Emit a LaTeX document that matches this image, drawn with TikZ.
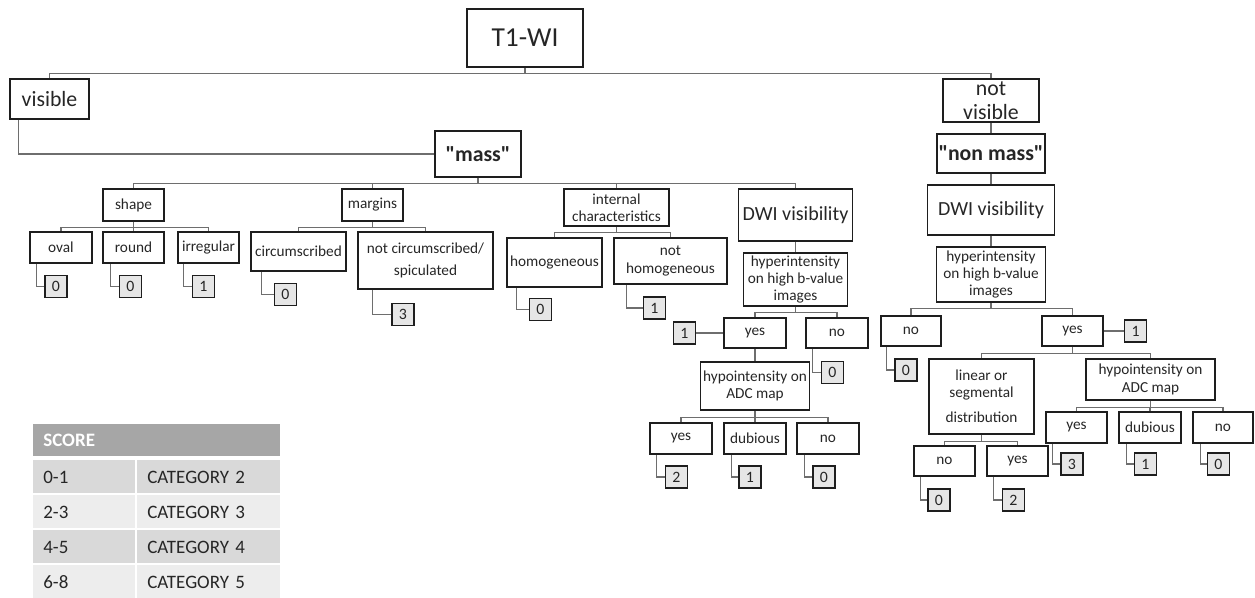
\documentclass[tikz,border=0pt]{standalone}
\usepackage{fontspec}
\setmainfont{Carlito}
\usetikzlibrary{positioning,calc}
\definecolor{boxline}{HTML}{1E1E1E}
\definecolor{connline}{HTML}{6E6E6E}
\definecolor{scorefill}{HTML}{E6E6E6}
\definecolor{txt}{HTML}{262626}
\definecolor{hdgray}{HTML}{A6A6A6}
\definecolor{rowdark}{HTML}{D9D9D9}
\definecolor{rowlight}{HTML}{EDEDED}

\begin{document}
\begin{tikzpicture}[
  box/.style={draw=boxline, line width=1.1pt, align=center, inner sep=1pt, text=txt, font=\fontsize{8.7}{9.8}\selectfont},
  sz/.style 2 args={minimum width=#1cm, minimum height=#2cm},
  score/.style={draw=boxline, line width=1.1pt, fill=scorefill, minimum size=0.44cm, inner sep=0pt, text=txt, font=\fontsize{9}{9}\selectfont},
  ln/.style={draw=connline, line width=0.6pt},
  cell/.style={fill=#1, anchor=west, minimum height=0.66cm, inner xsep=0.2cm, inner ysep=0pt, align=left, text=txt, font=\fontsize{10.8}{13}\selectfont},
]
  \useasboundingbox (0,0) rectangle (25.1,-11.96);

  % top levels
  \node[box, sz={2.32}{1.16}, font=\fontsize{15.6}{18}\selectfont] (t1) at (10.50,-0.76) {T1-WI};
  \node[box, sz={1.58}{0.80}, font=\fontsize{12.4}{13.6}\selectfont] (vis) at (0.99,-1.98) {visible};
  \node[box, sz={1.92}{0.86}, font=\fontsize{12.4}{13.6}\selectfont] (nvis) at (19.82,-2.01) {not\\visible};
  \node[box, sz={1.72}{0.92}, font=\bfseries\fontsize{12.4}{13.6}\selectfont] (mass) at (9.56,-3.08) {\textquotedbl mass\textquotedbl};
  \node[box, sz={2.12}{0.78}, font=\bfseries\fontsize{12.4}{13.6}\selectfont] (nmass) at (19.82,-3.07) {\textquotedbl non mass\textquotedbl};

  % mass branch
  \node[box, sz={1.22}{0.64}] (shape) at (2.67,-4.10) {shape};
  \node[box, sz={1.22}{0.64}] (margins) at (7.45,-4.10) {margins};
  \node[box, sz={2.10}{0.74}] (intc) at (12.33,-4.15) {internal\\characteristics};
  \node[box, sz={2.28}{1.04}, font=\fontsize{11.4}{13}\selectfont] (dwi1) at (15.91,-4.30) {DWI visibility};

  \node[box, sz={1.24}{0.62}] (oval) at (1.22,-4.95) {oval};
  \node[box, sz={1.22}{0.62}] (round) at (2.67,-4.95) {round};
  \node[box, sz={1.22}{0.62}] (irreg) at (4.17,-4.95) {irregular};
  \node[box, sz={1.90}{0.78}] (circ) at (5.97,-5.03) {circumscribed};
  \node[box, sz={2.70}{1.14}] (ncirc) at (8.51,-5.21) {not circumscribed/\\[3.2pt]spiculated};
  \node[box, sz={1.90}{0.98}] (homog) at (11.09,-5.25) {homogeneous};
  \node[box, sz={2.26}{0.92}] (nhomog) at (13.41,-5.22) {not\\homogeneous};

  \node[box, sz={2.08}{1.06}] (hyp1) at (15.91,-5.59) {hyperintensity\\on high b-value\\images};
  \node[box, sz={1.24}{0.60}] (yes1) at (15.10,-6.66) {yes};
  \node[box, sz={1.24}{0.60}] (no1) at (16.74,-6.66) {no};
  \node[box, sz={2.18}{0.96}] (hypo1) at (15.10,-7.72) {hypointensity on\\ADC map};
  \node[box, sz={1.24}{0.62}] (y1a) at (13.62,-8.77) {yes};
  \node[box, sz={1.24}{0.62}] (d1) at (15.10,-8.77) {dubious};
  \node[box, sz={1.24}{0.62}] (n1) at (16.56,-8.77) {no};

  % non mass branch
  \node[box, sz={2.54}{1.00}, font=\fontsize{11.4}{13}\selectfont] (dwi2) at (19.82,-4.20) {DWI visibility};
  \node[box, sz={2.18}{1.10}] (hyp2) at (19.82,-5.49) {hyperintensity\\on high b-value\\images};
  \node[box, sz={1.20}{0.60}] (no2) at (18.22,-6.62) {no};
  \node[box, sz={1.22}{0.60}] (yes2) at (21.45,-6.62) {yes};
  \node[box, sz={2.10}{1.50}] (lin) at (19.63,-7.93) {linear or\\segmental\\[4.5pt]distribution};
  \node[box, sz={2.58}{0.82}] (hypo2) at (23.01,-7.59) {hypointensity on\\ADC map};
  \node[box, sz={1.22}{0.60}] (ln) at (18.89,-9.22) {no};
  \node[box, sz={1.22}{0.60}] (ly) at (20.35,-9.22) {yes};
  \node[box, sz={1.22}{0.62}] (hy) at (21.53,-8.55) {yes};
  \node[box, sz={1.24}{0.62}] (hd) at (23.00,-8.55) {dubious};
  \node[box, sz={1.20}{0.62}] (hn) at (24.46,-8.55) {no};

  % scores
  \node[score] (s-oval) at (1.12,-5.73) {0};
  \node[score] (s-round) at (2.61,-5.73) {0};
  \node[score] (s-irreg) at (4.07,-5.73) {1};
  \node[score] (s-circ) at (5.71,-5.89) {0};
  \node[score] (s-ncirc) at (8.06,-6.29) {3};
  \node[score] (s-homog) at (10.81,-6.19) {0};
  \node[score] (s-nhomog) at (13.09,-6.16) {1};
  \node[score] (s-yes1) at (13.69,-6.66) {1};
  \node[score] (s-no1) at (16.65,-7.45) {0};
  \node[score] (s-y1a) at (13.53,-9.54) {2};
  \node[score] (s-d1) at (15.00,-9.54) {1};
  \node[score] (s-n1) at (16.48,-9.54) {0};
  \node[score] (s-no2) at (18.12,-7.40) {0};
  \node[score] (s-yes2) at (22.71,-6.62) {1};
  \node[score] (s-ln) at (18.78,-10.00) {0};
  \node[score] (s-ly) at (20.27,-10.00) {2};
  \node[score] (s-hy) at (21.44,-9.28) {3};
  \node[score] (s-hd) at (22.91,-9.28) {1};
  \node[score] (s-hn) at (24.37,-9.28) {0};

  % tree lines
  \draw[ln] (t1.south) -- ++(0,-0.12) -| (vis.north);
  \draw[ln] (t1.south) -- ++(0,-0.12) -| (nvis.north);
  \draw[ln] ([xshift=0.18cm]vis.south west) |- (mass);
  \draw[ln] (nvis) -- (nmass);
  \draw[ln] (nmass) -- (dwi2);
  \draw[ln] (dwi2) -- (hyp2);

  \draw[ln] (mass.south) -- ++(0,-0.12) -| (shape.north);
  \draw[ln] (mass.south) -- ++(0,-0.12) -| (margins.north);
  \draw[ln] (mass.south) -- ++(0,-0.12) -| (intc.north);
  \draw[ln] (mass.south) -- ++(0,-0.12) -| (dwi1.north);
  \draw[ln] (shape.south) -- ++(0,-0.12) -| (oval.north);
  \draw[ln] (shape.south) -- ++(0,-0.12) -| (round.north);
  \draw[ln] (shape.south) -- ++(0,-0.12) -| (irreg.north);
  \draw[ln] (margins.south) -- ++(0,-0.12) -| (circ.north);
  \draw[ln] (margins.south) -- ++(0,-0.12) -| (ncirc.north);
  \draw[ln] (intc.south) -- ++(0,-0.12) -| (homog.north);
  \draw[ln] (intc.south) -- ++(0,-0.12) -| (nhomog.north);
  \draw[ln] (dwi1) -- (hyp1);
  \draw[ln] (hyp1.south) -- ++(0,-0.12) -| (yes1.north);
  \draw[ln] (hyp1.south) -- ++(0,-0.12) -| (no1.north);
  \draw[ln] (yes1) -- (hypo1);
  \draw[ln] (hypo1.south) -- ++(0,-0.14) -| (y1a.north);
  \draw[ln] (hypo1.south) -- ++(0,-0.14) -| (d1.north);
  \draw[ln] (hypo1.south) -- ++(0,-0.14) -| (n1.north);

  \draw[ln] (hyp2.south) -- ++(0,-0.12) -| (no2.north);
  \draw[ln] (hyp2.south) -- ++(0,-0.12) -| (yes2.north);
  \draw[ln] (yes2.south) -- ++(0,-0.14) -| (lin.north);
  \draw[ln] (yes2.south) -- ++(0,-0.14) -| (hypo2.north);
  \draw[ln] (lin.south) -- ++(0,-0.14) -| (ln.north);
  \draw[ln] (lin.south) -- ++(0,-0.14) -| (ly.north);
  \draw[ln] (hypo2.south) -- ++(0,-0.14) -| (hy.north);
  \draw[ln] (hypo2.south) -- ++(0,-0.14) -| (hd.north);
  \draw[ln] (hypo2.south) -- ++(0,-0.14) -| (hn.north);

  % score lines
  \draw[ln] ([xshift=0.14cm]oval.south west) |- (s-oval);
  \draw[ln] ([xshift=0.16cm]round.south west) |- (s-round);
  \draw[ln] ([xshift=0.12cm]irreg.south west) |- (s-irreg);
  \draw[ln] ([xshift=0.22cm]circ.south west) |- (s-circ);
  \draw[ln] ([xshift=0.30cm]ncirc.south west) |- (s-ncirc);
  \draw[ln] ([xshift=0.20cm]homog.south west) |- (s-homog);
  \draw[ln] ([xshift=0.26cm]nhomog.south west) |- (s-nhomog);
  \draw[ln] (yes1) -- (s-yes1);
  \draw[ln] ([xshift=0.14cm]no1.south west) |- (s-no1);
  \draw[ln] ([xshift=0.14cm]y1a.south west) |- (s-y1a);
  \draw[ln] ([xshift=0.16cm]d1.south west) |- (s-d1);
  \draw[ln] ([xshift=0.16cm]n1.south west) |- (s-n1);
  \draw[ln] ([xshift=0.12cm]no2.south west) |- (s-no2);
  \draw[ln] (yes2) -- (s-yes2);
  \draw[ln] ([xshift=0.14cm]ln.south west) |- (s-ln);
  \draw[ln] ([xshift=0.14cm]ly.south west) |- (s-ly);
  \draw[ln] ([xshift=0.14cm]hy.south west) |- (s-hy);
  \draw[ln] ([xshift=0.16cm]hd.south west) |- (s-hd);
  \draw[ln] ([xshift=0.16cm]hn.south west) |- (s-hn);

  % score table
  \node[cell=hdgray, text width=4.54cm, minimum height=0.64cm, text=white, font=\bfseries\fontsize{10.8}{13}\selectfont] (thead) at (0.66,-8.80) {SCORE};
  \node[cell=rowdark, text width=1.64cm] (r1a) at (0.66,-9.54) {0-1};
  \node[cell=rowdark, text width=2.46cm] (r1b) at (2.74,-9.54) {CATEGORY 2};
  \node[cell=rowlight, text width=1.64cm] (r2a) at (0.66,-10.24) {2-3};
  \node[cell=rowlight, text width=2.46cm] (r2b) at (2.74,-10.24) {CATEGORY 3};
  \node[cell=rowdark, text width=1.64cm] (r3a) at (0.66,-10.94) {4-5};
  \node[cell=rowdark, text width=2.46cm] (r3b) at (2.74,-10.94) {CATEGORY 4};
  \node[cell=rowlight, text width=1.64cm] (r4a) at (0.66,-11.64) {6-8};
  \node[cell=rowlight, text width=2.46cm] (r4b) at (2.74,-11.64) {CATEGORY 5};
\end{tikzpicture}
\end{document}
